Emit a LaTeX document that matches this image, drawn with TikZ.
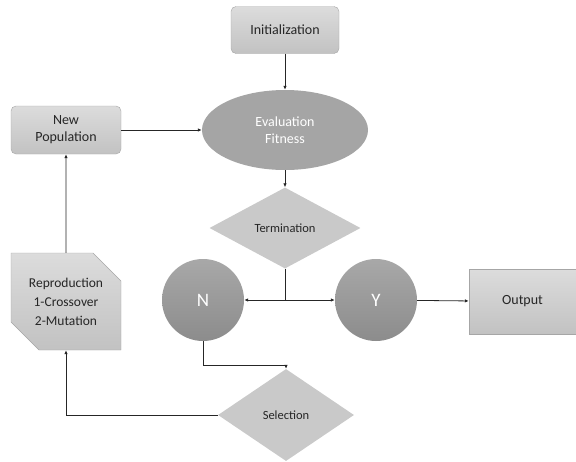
\documentclass[tikz,border=0pt]{standalone}
\usepackage{fontspec}
\setmainfont{Carlito}
\usepackage{tikz}
\usetikzlibrary{shapes.geometric, shapes.misc, arrows.meta, positioning}

\definecolor{boxtop}{HTML}{DCDCDC}
\definecolor{boxbot}{HTML}{C2C2C2}
\definecolor{boxline}{HTML}{A6A6A6}
\definecolor{ovalfill}{HTML}{A5A5A5}
\definecolor{roundtop}{HTML}{A8A8A8}
\definecolor{roundbot}{HTML}{8C8C8C}
\definecolor{decfill}{HTML}{C9C9C9}
\definecolor{labeltext}{HTML}{262626}

\begin{document}
\begin{tikzpicture}[x=1pt, y=-1pt,
    block/.style={rectangle, rounded corners=5pt, draw=boxline, top color=boxtop, bottom color=boxbot, text=labeltext, align=center, font=\fontsize{14}{17}\selectfont},
    oval/.style={ellipse, fill=ovalfill, text=white, align=center, font=\fontsize{14}{17}\selectfont},
    round/.style={circle, top color=roundtop, bottom color=roundbot, text=white, minimum size=82pt, inner sep=0pt, font=\fontsize{19}{21}\selectfont},
    decision/.style={diamond, fill=decfill, text=labeltext, inner sep=0pt, font=\fontsize{12.5}{15}\selectfont},
    arrow/.style={-{Latex[length=4pt, width=3.5pt]}, line width=0.8pt, draw=black!85}
]
    \useasboundingbox (0,0) rectangle (576,461);

    \node[block, minimum width=108pt, minimum height=47pt] (init) at (285,30) {Initialization};
    \node[oval, minimum width=166pt, minimum height=80pt] (eval) at (285,130) {Evaluation\\Fitness};
    \node[block, minimum width=110pt, minimum height=48pt] (newpop) at (66,130) {New\\Population};
    \node[decision, minimum width=151pt, minimum height=81pt] (term) at (285,228) {Termination};

    \node[round] (no) at (203,300) {N};
    \node[round] (yes) at (376,300) {Y};
    \node[rectangle, draw=boxline, top color=boxtop, bottom color=boxbot, text=labeltext, minimum width=107pt, minimum height=65pt, font=\fontsize{14}{17}\selectfont] (out) at (522.5,301.5) {Output};

    \node[chamfered rectangle, chamfered rectangle corners={north east, south west}, chamfered rectangle sep=14pt, inner sep=0pt, draw=boxline, top color=boxtop, bottom color=boxbot, text=labeltext, align=center, minimum width=110pt, minimum height=97pt, font=\fontsize{13.5}{19}\selectfont] (repro) at (66,301.5) {Reproduction\\1-Crossover\\2-Mutation};
    \node[decision, minimum width=136pt, minimum height=92pt] (sel) at (286,415) {Selection};

    \draw[arrow] (init) -- (eval);
    \draw[arrow] (eval) -- (term);
    \draw[line width=0.8pt, draw=black!85] (term.south) -- (term.south |- no.east) coordinate (split);
    \draw[arrow] (split) -- (no.east);
    \draw[arrow] (split) -- (yes.west);
    \draw[arrow] (yes) -- (out);
    \draw[arrow] (no.south) -- ++(0,24) -| (sel.north);
    \draw[arrow] (sel.west) -| (repro.south);
    \draw[arrow] (repro) -- (newpop);
    \draw[arrow] (newpop) -- (eval);
\end{tikzpicture}
\end{document}
